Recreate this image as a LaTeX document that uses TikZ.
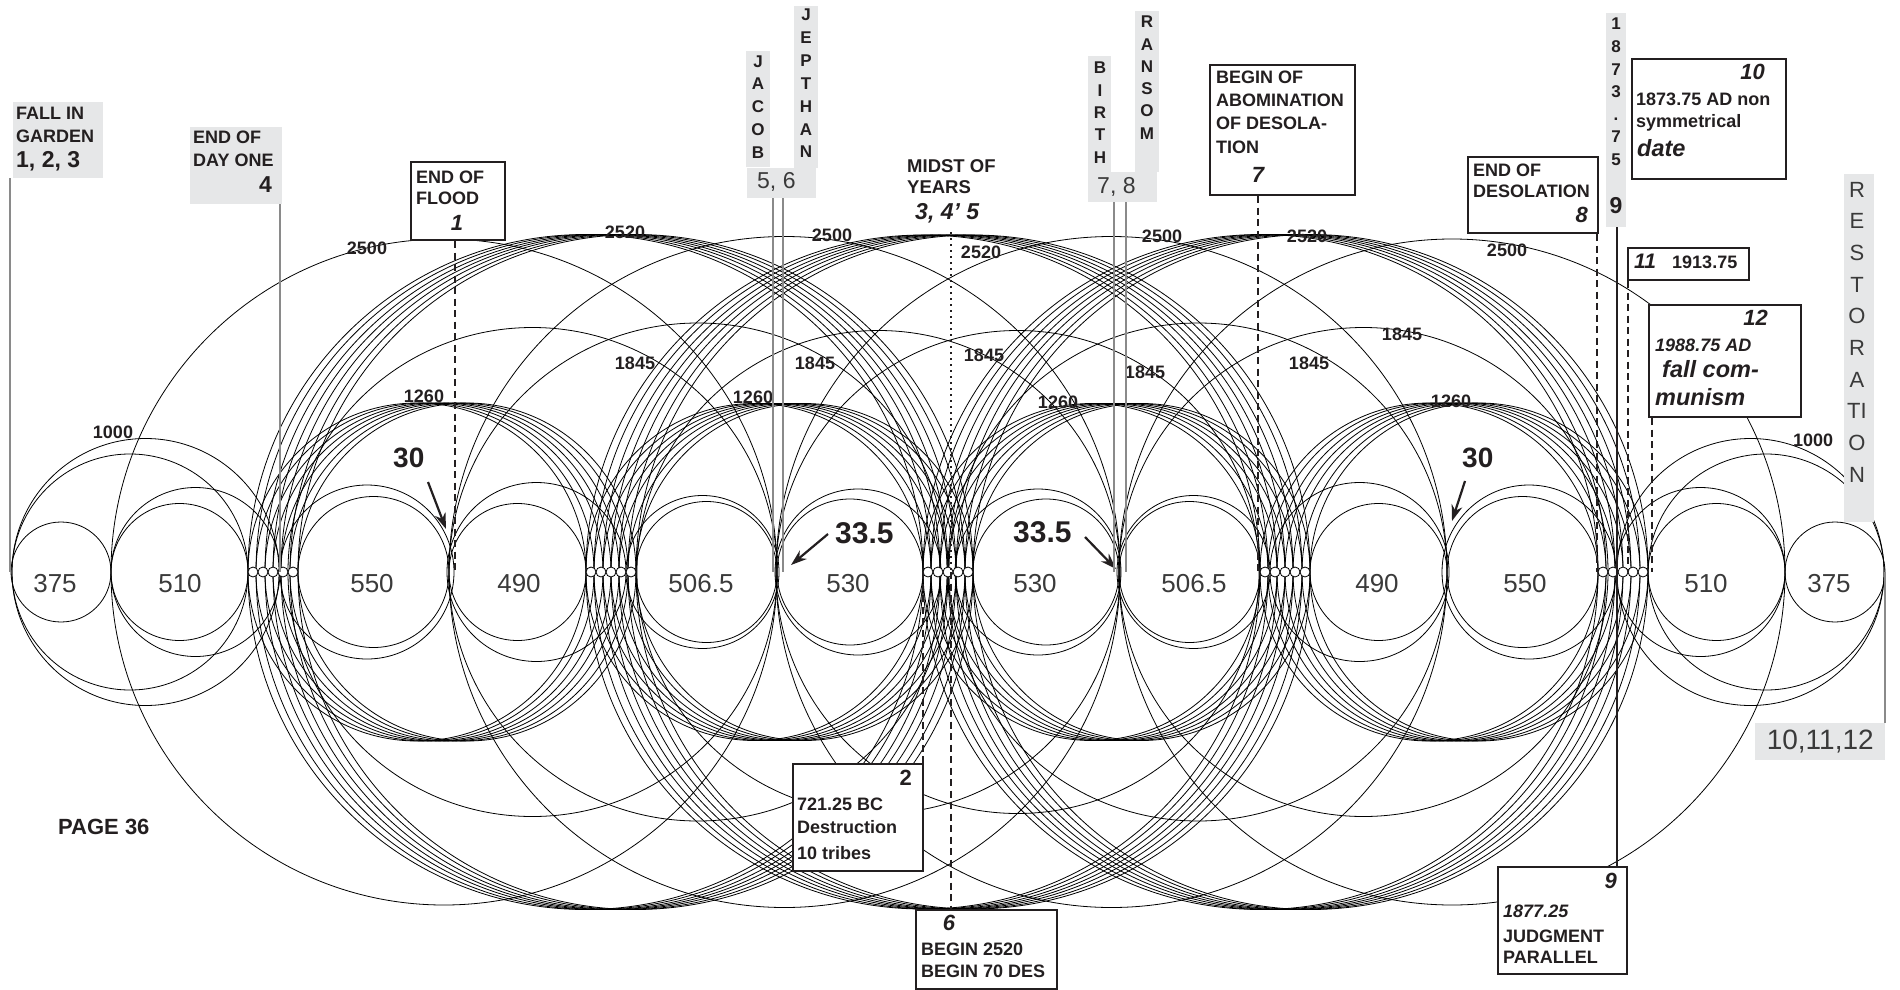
\documentclass[tikz,border=0pt]{standalone}
\usepackage{fontspec}
\setmainfont{Liberation Sans}
\usetikzlibrary{arrows.meta}
\newcommand\fsz[1]{\fontsize{#1}{#1}\selectfont}
\definecolor{ink}{HTML}{231F20}
\definecolor{gbg}{HTML}{E6E7E8}
\definecolor{regc}{HTML}{3A3A3A}
\definecolor{lgray}{HTML}{8A8A8A}
\begin{document}
\begin{tikzpicture}[x=1pt,y=-1pt,
 circ/.style={draw=black, line width=0.8pt},
 dotc/.style={draw=black, line width=0.8pt, fill=white},
 gstrip/.style={fill=gbg, draw=none, inner sep=0pt, anchor=north west},
 nbox/.style={draw=ink, line width=2pt, fill=white, inner sep=0pt, anchor=north west},
 tb/.style={font=\bfseries\fsz{18}, text=ink, inner sep=0pt, anchor=base west},
 tbr/.style={tb, anchor=base east},
 tbi/.style={font=\bfseries\itshape\fsz{22}, text=ink, inner sep=0pt, anchor=base west},
 tbir/.style={tbi, anchor=base east},
 numl/.style={font=\bfseries\fsz{18}, text=ink, inner sep=0pt, anchor=center},
 reg/.style={font=\fsz{26}, text=regc, inner sep=0pt, anchor=base},
 vl/.style={font=\bfseries\fsz{17}, text=ink, inner sep=0pt, anchor=base},
 rl/.style={font=\fsz{22}, text=regc, inner sep=0pt, anchor=base},
 gline/.style={draw=lgray, line width=1.4pt},
 dline/.style={draw=ink, line width=2.2pt, dash pattern=on 7pt off 4.5pt},
 arr/.style={draw=ink, line width=2.2pt, -{Stealth[length=16pt,width=11pt]}}
]
\useasboundingbox (0,0) rectangle (1900,990);

% ---------- big single circles ----------
\foreach \c/\r in {444/333,784.5/335.5,1111.5/335.5,1452/333,
                   532.5/244.5,878.5/241.5,1017.5/241.5,1363.5/244.5,698/249,1198/249,
                   130/118,145.5/133.5,1766/118,1750.5/133.5}
  \draw[circ] (\c,572) circle[radius=\r pt];

% ---------- bundles (1260 and 2520) ----------
\foreach \a/\b in {248/586,586/923,923/1260,1260/1598,248/923,586/1260,923/1598}{
  \pgfmathsetmacro\rr{(\b-\a)/2}
  \foreach \t in {0,8,17,25,33,42,50}{
    \pgfmathsetmacro\cc{(\a+\b)/2+\t}
    \draw[circ] (\cc,572) circle[radius=\rr pt];
  }
}

% ---------- region circles ----------
\foreach \c/\r in {61/50,179.5/68.5,373.5/75.5,517.5/68.5,706.5/70.5,850/73,
                   1046/73,1189.5/70.5,1378.5/68.5,1522.5/75.5,1716.5/68.5,1835/50,
                   195.5/84.5,367/87,536.5/89.5,702.5/76.5,858/83,
                   1038/83,1193.5/76.5,1359.5/89.5,1529/87,1700.5/84.5}
  \draw[circ] (\c,572) circle[radius=\r pt];

% ---------- small circles ----------
\foreach \g in {248,586,923,1260,1598}{
  \foreach \k in {0,...,4}{
    \draw[dotc] ({\g+5+10*\k},572) circle[radius=5pt];
  }
}

% ---------- region labels ----------
\foreach \x/\t [count=\i] in {55/375,180/510,372/550,519/490,701/506.5,848/530,
                   1035/530,1194/506.5,1377/490,1525/550,1706/510,1829/375}
  \node[reg] (rg\i) at (\x,592) {\t};

% ---------- arc labels ----------
\node[numl] (l2500a) at (367,248) {2500};
\node[numl] (l2500b) at (832,235) {2500};
\node[numl] (l2500c) at (1162,236) {2500};
\node[numl] (l2500d) at (1507,250) {2500};
\node[numl] (l2520a) at (625,232) {2520};
\node[numl] (l2520b) at (981,252) {2520};
\node[numl] (l2520c) at (1307,236) {2520};
\node[numl] (l1260a) at (424,396) {1260};
\node[numl] (l1260b) at (753,397) {1260};
\node[numl] (l1260c) at (1058,402) {1260};
\node[numl] (l1260d) at (1451,401) {1260};
\node[numl] (l1845a) at (635,363) {1845};
\node[numl] (l1845b) at (815,363) {1845};
\node[numl] (l1845c) at (984,355) {1845};
\node[numl] (l1845d) at (1145,372) {1845};
\node[numl] (l1845e) at (1309,363) {1845};
\node[numl] (l1845f) at (1402,334) {1845};
\node[numl] (l1000a) at (113,432) {1000};
\node[numl] (l1000b) at (1813,440) {1000};

% ---------- 30 and 33.5 ----------
\node[font=\bfseries\fsz{28}, text=ink, inner sep=0pt, anchor=base west] (t30a) at (393,467) {30};
\node[font=\bfseries\fsz{28}, text=ink, inner sep=0pt, anchor=base west] (t30b) at (1462,467) {30};
\node[font=\bfseries\fsz{30}, text=ink, inner sep=0pt, anchor=base west] (t33a) at (835,543) {33.5};
\node[font=\bfseries\fsz{30}, text=ink, inner sep=0pt, anchor=base west] (t33b) at (1013,542) {33.5};
\coordinate (a1s) at (428,482); \coordinate (a1e) at (446,529);
\coordinate (a2s) at (1465,481); \coordinate (a2e) at (1452,521);
\coordinate (a3s) at (828,534); \coordinate (a3e) at (791,565);
\coordinate (a4s) at (1085,537); \coordinate (a4e) at (1116,569);
\draw[arr] (a1s) -- (a1e);
\draw[arr] (a2s) -- (a2e);
\draw[arr] (a3s) -- (a3e);
\draw[arr] (a4s) -- (a4e);

% ---------- baseline coordinates ----------
\coordinate (p10) at (10,572);
\coordinate (p280) at (280,572);
\coordinate (p455) at (455,572);
\coordinate (p773) at (773,572);
\coordinate (p783) at (783,572);
\coordinate (p923) at (923,572);
\coordinate (p951) at (951,572);
\coordinate (p1114) at (1114,572);
\coordinate (p1126) at (1126,572);
\coordinate (p1258) at (1258,572);
\coordinate (p1597) at (1597,572);
\coordinate (p1617) at (1617,572);
\coordinate (p1628) at (1628,572);
\coordinate (p1652) at (1652,572);
\coordinate (p1885) at (1885,572);
\coordinate (q923) at (923,830);
\coordinate (m951) at (951,232);

% ---------- left labels ----------
\node[gstrip, minimum width=90pt, minimum height=76pt] (sfig) at (13,102) {};
\node[tb] (tfig1) at (16,119) {FALL IN};
\node[tb] (tfig2) at (16,142) {GARDEN};
\node[tb, font=\bfseries\fsz{23}] (tfig3) at (16,167) {1, 2, 3};

\node[gstrip, minimum width=92pt, minimum height=77pt] (sday) at (190,127) {};
\node[tb] (tday1) at (193,143) {END OF};
\node[tb] (tday2) at (193,166) {DAY ONE};
\node[tbr, font=\bfseries\fsz{23}] (tday3) at (272,192) {4};

\node[nbox, minimum width=94pt, minimum height=78pt] (bflood) at (410,161) {};
\node[tb] (tfl1) at (416,183) {END OF};
\node[tb] (tfl2) at (416,204) {FLOOD};
\node[tbi, anchor=base] (tfl3) at (457,230) {1};

% ---------- Jacob / Jepthan ----------
\node[gstrip, minimum width=24pt, minimum height=116pt] (sjac) at (746,51) {};
\node[gstrip, minimum width=24pt, minimum height=162pt] (sjep) at (794,6) {};
\node[gstrip, minimum width=69pt, minimum height=30pt] (b56) at (747,168) {};
\foreach \l [count=\i from 0] in {J,A,C,O,B}
  \node[vl] (jac\i) at (758,{67+22.75*\i}) {\l};
\foreach \l [count=\i from 0] in {J,E,P,T,H,A,N}
  \node[vl] (jep\i) at (806,{21+22.8*\i}) {\l};
\node[font=\fsz{23}, text=regc, inner sep=0pt, anchor=base west] (t56) at (757,188) {5, 6};

% ---------- midst of years ----------
\node[tb, font=\bfseries\fsz{18.5}] (tm1) at (907,172) {MIDST OF};
\node[tb, font=\bfseries\fsz{18.5}] (tm2) at (907,193) {YEARS};
\node[tbi, font=\bfseries\itshape\fsz{23}] (tm3) at (915,219) {3, 4’ 5};

% ---------- Birth / Ransom ----------
\node[gstrip, minimum width=23pt, minimum height=116pt] (sbir) at (1088,56) {};
\node[gstrip, minimum width=24pt, minimum height=161pt] (sran) at (1135,11) {};
\node[gstrip, minimum width=69pt, minimum height=30pt] (b78) at (1088,172) {};
\foreach \l [count=\i from 0] in {B,I,R,T,H}
  \node[vl] (bir\i) at (1100,{74+22.3*\i}) {\l};
\foreach \l [count=\i from 0] in {R,A,N,S,O,M}
  \node[vl] (ran\i) at (1147,{28+22.2*\i}) {\l};
\node[font=\fsz{23}, text=regc, inner sep=0pt, anchor=base west] (t78) at (1097,193) {7, 8};

% ---------- abomination ----------
\node[nbox, minimum width=145pt, minimum height=130pt] (babom) at (1209,64) {};
\node[tb] (tab1) at (1216,83) {BEGIN OF};
\node[tb] (tab2) at (1216,106) {ABOMINATION};
\node[tb] (tab3) at (1216,129) {OF DESOLA-};
\node[tb] (tab4) at (1216,153) {TION};
\node[tbi, anchor=base] (tab5) at (1258,182) {7};

% ---------- end of desolation ----------
\node[nbox, minimum width=130pt, minimum height=76pt] (b8) at (1467,156) {};
\node[tb] (t81) at (1473,176) {END OF};
\node[tb] (t82) at (1473,197) {DESOLATION};
\node[tbir] (t83) at (1588,222) {8};

% ---------- 1873.75 strip ----------
\node[gstrip, minimum width=20pt, minimum height=214pt] (s1873) at (1606,13) {};
\foreach \l [count=\i from 0] in {1,8,7,3,.,7,5}
  \node[vl] (yr\i) at (1616,{30+22.5*\i}) {\l};
\node[vl, font=\bfseries\fsz{23}] (yr9) at (1616,213) {9};

% ---------- box 10 ----------
\node[nbox, minimum width=154pt, minimum height=120pt] (b10) at (1631,58) {};
\node[tbir] (t101) at (1765,80) {10};
\node[tb] (t102) at (1636,105) {1873.75 AD non};
\node[tb] (t103) at (1636,127) {symmetrical};
\node[tbi, font=\bfseries\itshape\fsz{23.5}] (t104) at (1637,156) {date};

% ---------- box 11 ----------
\node[nbox, minimum width=121pt, minimum height=32pt] (b11) at (1627,247) {};
\node[tbi, font=\bfseries\itshape\fsz{21}] (t111) at (1634,268) {11};
\node[tb] (t112) at (1672,268) {1913.75};

% ---------- box 12 ----------
\node[nbox, minimum width=152pt, minimum height=112pt] (b12) at (1648,304) {};
\node[tbir] (t121) at (1768,325) {12};
\node[tbi, font=\bfseries\itshape\fsz{18}] (t122) at (1655,351) {1988.75 AD};
\node[tbi, font=\bfseries\itshape\fsz{23.5}] (t123) at (1662,377) {fall com-};
\node[tbi, font=\bfseries\itshape\fsz{23.5}] (t124) at (1655,405) {munism};

% ---------- restoration ----------
\node[gstrip, minimum width=30pt, minimum height=348pt] (srest) at (1844,174) {};
\foreach \l [count=\i from 0] in {R,E,S,T,O,R,A,TI,O,N}
  \node[rl] (rs\i) at (1857,{197+31.7*\i}) {\l};
\node[gstrip, minimum width=130pt, minimum height=37pt] (s101112) at (1755,723) {};
\node[font=\fsz{28}, text=regc, inner sep=0pt] (t101112) at (s101112.center) {10,11,12};

% ---------- lower boxes ----------
\node[nbox, minimum width=130pt, minimum height=107pt] (b2) at (792,763) {};
\node[tbr, font=\bfseries\fsz{22}] (t21) at (912,785) {2};
\node[tb] (t22) at (797,810) {721.25 BC};
\node[tb] (t23) at (797,833) {Destruction};
\node[tb] (t24) at (797,859) {10 tribes};

\node[nbox, minimum width=141pt, minimum height=79pt] (b6) at (915,909) {};
\node[tbi, anchor=base] (t61) at (949,930) {6};
\node[tb] (t62) at (921,955) {BEGIN 2520};
\node[tb] (t63) at (921,977) {BEGIN 70 DES};

\node[nbox, minimum width=129pt, minimum height=107pt] (b9) at (1497,866) {};
\node[tbir] (t91) at (1617,888) {9};
\node[tbi, font=\bfseries\itshape\fsz{18}] (t92) at (1503,917) {1877.25};
\node[tb] (t93) at (1503,942) {JUDGMENT};
\node[tb] (t94) at (1503,963) {PARALLEL};

\node[font=\bfseries\fsz{22}, text=ink, inner sep=0pt, anchor=base west] (tpage) at (58,834) {PAGE 36};

% ---------- connectors ----------
\draw[gline] (sfig.south -| p10) -- (p10);
\draw[gline] (sday.south -| p280) -- (p280);
\draw[dline] (bflood.south -| p455) -- (p455);
\draw[gline, line width=1.1pt] (b56.south -| p773) -- (p773);
\draw[gline, line width=1.1pt] (b56.south -| p783) -- (p783);
\draw[draw=ink, line width=2pt, dash pattern=on 2pt off 4pt] (m951) -- (p951);
\draw[gline, line width=1.1pt] (b78.south -| p1114) -- (p1114);
\draw[gline, line width=1.1pt] (b78.south -| p1126) -- (p1126);
\draw[dline] (babom.south -| p1258) -- (p1258);
\draw[dline] (b8.south -| p1597) -- (p1597);
\draw[draw=ink, line width=1.5pt] (s1873.south -| p1617) -- (b9.north -| p1617);
\draw[dline] (b11.south -| p1628) -- (p1628);
\draw[dline] (b12.south -| p1652) -- (p1652);
\draw[dline] (p923) -- (q923);
\draw[dline] (p951) -- (b6.north -| p951);
\draw[gline] (p1885) -- (s101112.north -| p1885);
\end{tikzpicture}
\end{document}
